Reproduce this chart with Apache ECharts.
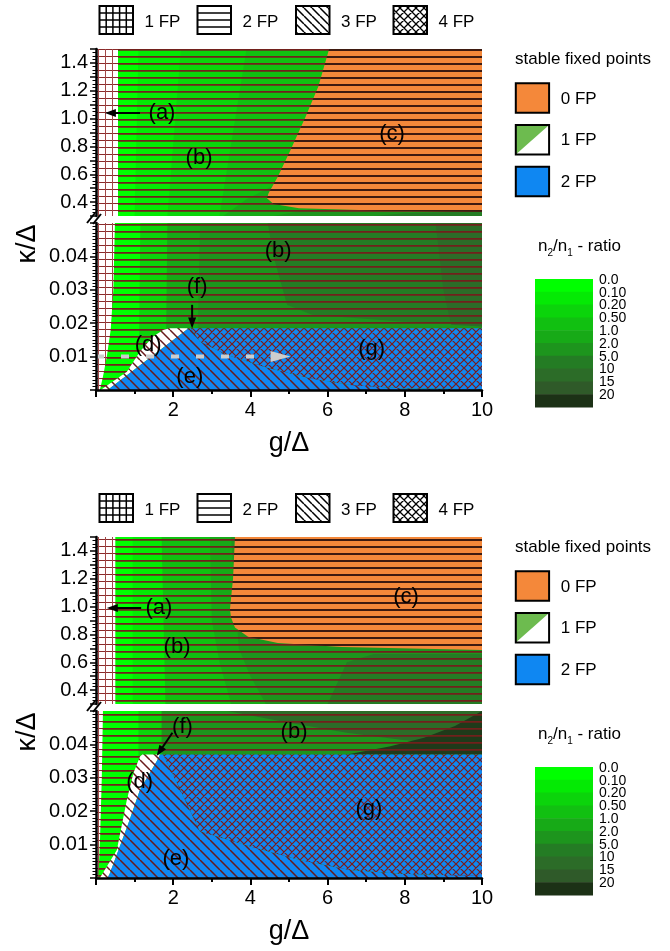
<!DOCTYPE html>
<html><head><meta charset="utf-8">
<script src="https://cdn.jsdelivr.net/npm/echarts@6.0.0/dist/echarts.min.js"></script>
<style>html,body{margin:0;padding:0;background:#fff;}#chart{width:670px;height:951px;}</style>
</head><body><div id="chart"></div>
<script>
const FONT = '"Liberation Sans", Arial, sans-serif';

// ---------------- axis / legend data ----------------
const gRange = [0, 10];
const kappaUpperRange = [0.3, 1.5];
const kappaLowerRange = [0, 0.05];
const gTicks = [2, 4, 6, 8, 10];
const kappaUpperTicks = [0.4, 0.6, 0.8, 1.0, 1.2, 1.4];
const kappaLowerTicks = [0.01, 0.02, 0.03, 0.04];
const ratioLabels = ['0.0', '0.10', '0.20', '0.50', '1.0', '2.0', '5.0', '10', '15', '20'];
const ratioColors = ['#00ff00', '#04ea04', '#0bd40b', '#11c011', '#17aa17', '#1d951d', '#247c24', '#2c6c28', '#2f5a29', '#1c3116'];
const patternNames = ['1 FP', '2 FP', '3 FP', '4 FP'];
const fixedPointNames = ['0 FP', '1 FP', '2 FP'];

// ---------------- top panel, upper part (κ/Δ 0.3 – 1.5) ----------------
const topUpOneFP = [[0, 1.5], [0.57, 1.5], [0.57, 0.3], [0, 0.3]];
const topUpBand1 = [[1.1, 1.5], [10, 1.5], [10, 0.3], [1.0, 0.3]];
const topUpBand2 = [[2.2, 1.5], [10, 1.5], [10, 0.3], [1.85, 0.3]];
const topUpBand3 = [[3.9, 1.5], [10, 1.5], [10, 0.3], [3.2, 0.3]];
const topUpBand4 = [[10, 0.52], [4.6, 0.52], [3.9, 0.42], [3.3, 0.3], [10, 0.3]];
const topUpBand5 = [[10, 0.36], [5.5, 0.345], [4.6, 0.3], [10, 0.3]];
const topUpBand6 = [[10, 0.335], [8.0, 0.32], [7.2, 0.3], [10, 0.3]];
const topUpZeroFP = [[6.04, 1.5], [10, 1.5], [10, 0.33], [7.48, 0.337], [5.26, 0.355], [4.6, 0.386], [4.43, 0.427], [4.47, 0.463], [4.71, 0.582], [5.04, 0.774], [5.43, 1.014], [5.76, 1.23]];
const topUpLabels = [['(a)', 1.71, 1.04], ['(b)', 2.67, 0.717], ['(c)', 7.67, 0.889]];
const topUpArrows = [[1.14, 1.04, 0.23, 1.04]];

// ---------------- top panel, lower part (κ/Δ 0 – 0.05) ----------------
const topLoOneFP = [[0, 0.05], [0.49, 0.05], [0.45, 0.03], [0.38, 0.018], [0.28, 0.01], [0.18, 0.004], [0.1, 0], [0, 0]];
const topLoBand1 = [[1.15, 0.05], [10, 0.05], [10, 0], [1.1, 0]];
const topLoBand2 = [[1.85, 0.05], [10, 0.05], [10, 0], [1.8, 0]];
const topLoBand3 = [[2.7, 0.05], [10, 0.05], [10, 0], [2.6, 0]];
const topLoBand4 = [[4.45, 0.05], [4.6, 0.04], [4.95, 0.0255], [5.6, 0.0225], [7.9, 0.0205], [10, 0.0195], [10, 0.05]];
const topLoBand5 = [[8.8, 0.05], [10, 0.05], [10, 0.019], [9.2, 0.0195], [9.0, 0.03]];
const topLoD = [[0.12, 0], [0.8, 0.0055], [1.14, 0.0115], [1.48, 0.016], [1.74, 0.018], [1.9, 0.0185], [2.4, 0.0185], [0.3, 0]];
const topLoE = [[0.3, 0], [2.4, 0.0185], [2.46, 0.0185], [2.69, 0.0145], [3.4, 0.0105], [4.42, 0.0067], [5.54, 0.0035], [6.58, 0.0015], [7.9, 0.0005], [10, 0.0002], [10, 0]];
const topLoG = [[2.46, 0.0185], [10, 0.0185], [10, 0.0002], [7.9, 0.0005], [6.58, 0.0015], [5.54, 0.0035], [4.42, 0.0067], [3.4, 0.0105], [2.69, 0.0145]];
const topLoLabels = [['(b)', 4.72, 0.0417], ['(f)', 2.62, 0.0309], ['(d)', 1.35, 0.0135], ['(e)', 2.43, 0.004], ['(g)', 7.14, 0.0123]];
const topLoArrows = [[2.49, 0.0255, 2.49, 0.0184]];
const topLoDashedArrow = [[0, 0.01], [5.04, 0.01]];

// ---------------- bottom panel, upper part (κ/Δ 0.3 – 1.5) ----------------
const botUpOneFP = [[0, 1.5], [0.5, 1.5], [0.5, 0.3], [0, 0.3]];
const botUpBand1 = [[0.95, 1.5], [10, 1.5], [10, 0.3], [0.95, 0.3]];
const botUpBand2 = [[1.7, 1.5], [10, 1.5], [10, 0.3], [1.8, 0.3]];
const botUpBand3 = [[2.95, 1.5], [10, 1.5], [10, 0.3], [3.5, 0.3], [3.2, 0.6], [3.0, 0.9]];
const botUpBand4 = [[3.5, 1.5], [10, 1.5], [10, 0.3], [4.4, 0.3], [4.0, 0.5], [3.7, 0.7]];
const botUpBand5 = [[10, 0.66], [10, 0.3], [6.0, 0.3], [6.5, 0.6], [7.2, 0.66]];
const botUpZeroFP = [[3.6, 1.5], [10, 1.5], [10, 0.688], [6.37, 0.71], [4.71, 0.738], [3.94, 0.783], [3.6, 0.85], [3.5, 0.92], [3.47, 0.98], [3.55, 1.2]];
const botUpLabels = [['(a)', 1.63, 0.99], ['(b)', 2.1, 0.712], ['(c)', 8.03, 1.07]];
const botUpArrows = [[1.17, 0.99, 0.28, 0.99]];

// ---------------- bottom panel, lower part (κ/Δ 0 – 0.05) ----------------
const botLoOneFP = [[0, 0.05], [0.18, 0.05], [0.15, 0.03], [0.1, 0.01], [0.06, 0], [0, 0]];
const botLoBand1 = [[1.1, 0.05], [10, 0.05], [10, 0], [1.1, 0]];
const botLoBand2 = [[1.7, 0.05], [10, 0.05], [10, 0], [1.7, 0]];
const botLoBand3 = [[3.4, 0.05], [5, 0.0465], [6.5, 0.0435], [7.9, 0.0414], [10, 0.039], [10, 0.05]];
const botLoBand4 = [[6.5, 0.037], [7.6, 0.0394], [8.5, 0.042], [9.3, 0.0455], [10, 0.05], [10, 0.037]];
const botLoD = [[0.1, 0], [0.54, 0.0084], [0.8, 0.0234], [0.97, 0.0314], [1.14, 0.0364], [1.2, 0.037], [1.66, 0.037], [1.57, 0.0349], [1.14, 0.0264], [0.84, 0.0164], [0.36, 0.0014], [0.3, 0]];
const botLoE = [[0.3, 0], [0.36, 0.0014], [0.84, 0.0164], [1.14, 0.0264], [1.57, 0.0349], [1.66, 0.037], [1.74, 0.037], [2.2, 0.026], [2.69, 0.014], [4.0, 0.0094], [5.28, 0.0054], [6.58, 0.0024], [7.88, 0.0013], [10, 0.0006], [10, 0]];
const botLoG = [[1.74, 0.037], [10, 0.037], [10, 0.0006], [7.88, 0.0013], [6.58, 0.0024], [5.28, 0.0054], [4.0, 0.0094], [2.69, 0.014], [2.2, 0.026]];
const botLoLabels = [['(b)', 5.13, 0.0437], ['(f)', 2.24, 0.0452], ['(d)', 1.13, 0.0289], ['(e)', 2.07, 0.0057], ['(g)', 7.07, 0.0207]];
const botLoArrows = [[1.98, 0.0435, 1.57, 0.0365]];

// ---------------- styles ----------------
const ORANGE = '#f4883a', BLUE = '#0f87f2', GREEN1 = '#6dbb4f';
function makeCanvas(w, h, draw) { const c = document.createElement('canvas'); c.width = w; c.height = h; draw(c.getContext('2d'), w, h); return c; }
function pat(c) { return { image: c, repeat: 'repeat' }; }
function diagCanvas(n, bg, color, lw, both) {
  return makeCanvas(n, n, (x) => {
    if (bg) { x.fillStyle = bg; x.fillRect(0, 0, n, n); }
    x.strokeStyle = color; x.lineWidth = lw; x.beginPath();
    for (let k = -1; k <= 1; k++) {
      x.moveTo(k * n, 0); x.lineTo(k * n + n, n);
      if (both) { x.moveTo(k * n, n); x.lineTo(k * n + n, 0); }
    }
    x.stroke();
  });
}
const hLines = pat(makeCanvas(8, 7, (x, w) => { x.fillStyle = '#72201c'; x.fillRect(0, 0, w, 1); x.fillStyle = 'rgba(114,32,28,0.75)'; x.fillRect(0, 1, w, 1); }));
const hLinesOrange = pat(makeCanvas(8, 7, (x, w, h) => { x.fillStyle = ORANGE; x.fillRect(0, 0, w, h); x.fillStyle = '#3e1a10'; x.fillRect(0, 0, w, 2); }));
const gridWhite = pat(makeCanvas(7, 7, (x, w, h) => { x.fillStyle = '#fff'; x.fillRect(0, 0, w, h); x.fillStyle = '#8a2a2a'; x.fillRect(0, 0, w, 1); x.fillStyle = '#a04848'; x.fillRect(0, 0, 1, h); }));
const diagWhite = pat(diagCanvas(10, '#ffffff', '#6b1b1b', 1.5, false));
const diagBlue = pat(diagCanvas(10, BLUE, '#6b1b1b', 1.5, false));
const crossBlue = pat(diagCanvas(8, BLUE, '#7a1a1a', 1.2, true));
const diagBlack = pat(diagCanvas(8, '#ffffff', '#000', 1.5, false));
const crossBlack = pat(diagCanvas(8, '#ffffff', '#000', 1.3, true));

function frame(r) { return [[gRange[0], r[1]], [gRange[1], r[1]], [gRange[1], r[0]], [gRange[0], r[0]]]; }
const C = ratioColors;

const subplots = [
  { layers: [[frame(kappaUpperRange), C[0]], [topUpBand1, C[1]], [topUpBand2, C[2]], [topUpBand3, C[3]], [topUpBand4, C[4]], [topUpBand5, C[5]], [topUpBand6, C[6]], [frame(kappaUpperRange), hLines], [topUpZeroFP, hLinesOrange], [topUpOneFP, gridWhite]],
    labels: topUpLabels, arrows: topUpArrows, dashed: null },
  { layers: [[frame(kappaLowerRange), C[0]], [topLoBand1, C[2]], [topLoBand2, C[4]], [topLoBand3, C[5]], [topLoBand4, C[6]], [topLoBand5, C[7]], [frame(kappaLowerRange), hLines], [topLoOneFP, gridWhite], [topLoD, diagWhite], [topLoE, diagBlue], [topLoG, crossBlue]],
    labels: topLoLabels, arrows: topLoArrows, dashed: topLoDashedArrow },
  { layers: [[frame(kappaUpperRange), C[0]], [botUpBand1, C[1]], [botUpBand2, C[3]], [botUpBand3, C[4]], [botUpBand4, C[5]], [botUpBand5, C[6]], [frame(kappaUpperRange), hLines], [botUpZeroFP, hLinesOrange], [botUpOneFP, gridWhite]],
    labels: botUpLabels, arrows: botUpArrows, dashed: null },
  { layers: [[frame(kappaLowerRange), C[0]], [botLoBand1, C[2]], [botLoBand2, C[5]], [botLoBand3, C[7]], [botLoBand4, '#1f3a1a'], [frame(kappaLowerRange), hLines], [botLoOneFP, gridWhite], [botLoD, diagWhite], [botLoE, diagBlue], [botLoG, crossBlue]],
    labels: botLoLabels, arrows: botLoArrows, dashed: null }
];

function arrowEls(p1, p2, color, lw, headLen, headHalf, dash) {
  const dx = p2[0] - p1[0], dy = p2[1] - p1[1], L = Math.hypot(dx, dy), ux = dx / L, uy = dy / L;
  const bx = p2[0] - ux * headLen, by = p2[1] - uy * headLen;
  return [
    { type: 'line', shape: { x1: p1[0], y1: p1[1], x2: bx + ux, y2: by + uy }, style: { stroke: color, lineWidth: lw, lineDash: dash || null } },
    { type: 'polygon', shape: { points: [[p2[0], p2[1]], [bx - uy * headHalf, by + ux * headHalf], [bx + uy * headHalf, by - ux * headHalf]] }, style: { fill: color } }
  ];
}
function textEl(t, x, y, size) {
  return { type: 'text', x: x, y: y, style: { text: t, font: size + 'px ' + FONT, fill: '#000', align: 'center', verticalAlign: 'middle', textAlign: 'center', textVerticalAlign: 'middle' } };
}

const series = subplots.map((sp, i) => ({
  type: 'custom', coordinateSystem: 'cartesian2d', xAxisIndex: i, yAxisIndex: i,
  silent: true, animation: false, clip: true, z: 2,
  data: [[5, i % 2 ? 0.02 : 0.9]],
  renderItem: (params, api) => {
    const ch = [];
    sp.layers.forEach(([pts, fill]) => {
      ch.push({ type: 'polygon', shape: { points: pts.map(p => api.coord(p)) }, style: { fill: fill, stroke: null } });
    });
    if (sp.dashed) {
      const a = api.coord(sp.dashed[0]), b = api.coord(sp.dashed[1]);
      arrowEls(a, b, '#cdcdcd', 4, 20, 5.5, [8, 17]).forEach(e => ch.push(e));
    }
    sp.arrows.forEach(ar => {
      arrowEls(api.coord([ar[0], ar[1]]), api.coord([ar[2], ar[3]]), '#000', 2, 11, 4).forEach(e => ch.push(e));
    });
    sp.labels.forEach(l => { const p = api.coord([l[1], l[2]]); ch.push(textEl(l[0], p[0], p[1], 22)); });
    return { type: 'group', children: ch };
  }
}));

const gridTops = [49, 223, 537, 711];
const grids = gridTops.map(t => ({ left: 96, width: 386, top: t, height: 167, containLabel: false, outerBoundsMode: 'none', show: false }));

function near(list, v) { return list.some(t => Math.abs(t - v) < 1e-6); }
const xAxes = gridTops.map((t, i) => {
  const lower = i % 2 === 1;
  return {
    gridIndex: i, type: 'value', min: gRange[0], max: gRange[1], interval: 2, show: lower, z: 10,
    axisLine: { show: true, onZero: false, lineStyle: { color: '#000', width: 2.5 } },
    axisTick: { show: true, length: 7, lineStyle: { color: '#000', width: 2 } },
    minorTick: { show: true, splitNumber: 2, length: 4, lineStyle: { color: '#000', width: 2 } },
    splitLine: { show: false }, minorSplitLine: { show: false },
    axisLabel: { show: true, formatter: v => near(gTicks, v) ? String(v) : '', fontSize: 20, color: '#000', margin: 10, fontFamily: FONT },
    name: lower ? 'g/Δ' : '', nameLocation: 'middle', nameGap: 40,
    nameTextStyle: { fontSize: 27, color: '#000', fontFamily: FONT }
  };
});
const yAxes = gridTops.map((t, i) => {
  const upper = i % 2 === 0;
  const r = upper ? kappaUpperRange : kappaLowerRange;
  return {
    gridIndex: i, type: 'value', min: r[0], max: r[1], interval: upper ? 0.1 : 0.01, z: 10,
    axisLine: { show: true, onZero: false, lineStyle: { color: '#000', width: 2.5 } },
    axisTick: { show: true, length: 6, lineStyle: { color: '#000', width: 1.5 } },
    minorTick: { show: true, splitNumber: upper ? 4 : 10, length: 3.5, lineStyle: { color: '#000', width: 1 } },
    splitLine: { show: false }, minorSplitLine: { show: false },
    axisLabel: {
      formatter: v => upper ? (near(kappaUpperTicks, v) ? v.toFixed(1) : '') : (near(kappaLowerTicks, v) ? v.toFixed(2) : ''),
      fontSize: 20, color: '#000', margin: 8, fontFamily: FONT
    }
  };
});

// ---------------- decorations (legends, colour bar, labels) ----------------
const mctx = document.createElement('canvas').getContext('2d');
function tw(text, size) { mctx.font = size + 'px ' + FONT; return mctx.measureText(text).width; }
function gText(t, x, y, size, align, extra) {
  return Object.assign({ type: 'text', x: x, y: y, z: 100, silent: true,
    style: { text: t, font: size + 'px ' + FONT, fill: '#000', align: align || 'left', verticalAlign: 'middle', textAlign: align || 'left', textVerticalAlign: 'middle' } }, extra || {});
}
function gLine(x1, y1, x2, y2, w) { return { type: 'line', z: 100, silent: true, shape: { x1, y1, x2, y2 }, style: { stroke: '#000', lineWidth: w } }; }
function gRect(x, y, w, h, fill, stroke) { return { type: 'rect', z: 100, silent: true, shape: { x, y, width: w, height: h }, style: { fill: fill, stroke: stroke || null, lineWidth: 2 } }; }

const graphics = [];
[0, 488].forEach(off => {
  // pattern legend
  const bx = [99.5, 197.5, 296, 393.5], bw = 33.5, by = 6 + off, bh = 28;
  patternNames.forEach((name, k) => {
    const x0 = bx[k];
    if (k === 0) {
      graphics.push(gRect(x0, by, bw, bh, '#fff'));
      for (let j = 1; j < 5; j++) graphics.push(gLine(x0 + bw * j / 5, by, x0 + bw * j / 5, by + bh, 1.5));
      for (let j = 1; j < 4; j++) graphics.push(gLine(x0, by + bh * j / 4, x0 + bw, by + bh * j / 4, 1.5));
    } else if (k === 1) {
      graphics.push(gRect(x0, by, bw, bh, '#fff'));
      for (let j = 1; j < 4; j++) graphics.push(gLine(x0, by + bh * j / 4, x0 + bw, by + bh * j / 4, 1.5));
    } else {
      graphics.push(gRect(x0, by, bw, bh, k === 2 ? diagBlack : crossBlack));
    }
    graphics.push(gRect(x0, by, bw, bh, null, '#000'));
    graphics.push(gText(name, x0 + 45, by + 16.5, 17));
  });
  // stable fixed points legend
  graphics.push(gText('stable fixed points', 515, 59 + off, 17));
  const ly = [83.3, 125, 166.7];
  fixedPointNames.forEach((name, k) => {
    const x0 = 515.8, y0 = ly[k] + off, w = 33.3, h = 29.5;
    if (k === 0) graphics.push(gRect(x0, y0, w, h, ORANGE));
    if (k === 2) graphics.push(gRect(x0, y0, w, h, BLUE));
    if (k === 1) {
      graphics.push(gRect(x0, y0, w, h, '#fff'));
      graphics.push({ type: 'polygon', z: 100, silent: true, shape: { points: [[x0, y0], [x0 + w, y0], [x0, y0 + h]] }, style: { fill: GREEN1 } });
    }
    graphics.push(gRect(x0, y0, w, h, null, '#000'));
    graphics.push(gText(name, 560.7, y0 + h / 2 + 1, 17));
  });
  // colour bar
  const cbTop = 279 + off, bandH = 12.8;
  ratioColors.forEach((c, k) => graphics.push(gRect(535, cbTop + k * bandH, 58, bandH + 0.5, c)));
  ratioLabels.forEach((t, k) => graphics.push(gText(t, 599, cbTop + k * bandH + 1, 14)));
  // colour bar title n2/n1 - ratio
  const parts = [['n', 17, 0], ['2', 10, 7], ['/n', 17, 0], ['1', 10, 7], [' - ratio', 17, 0]];
  let tx = 538;
  parts.forEach(p => { graphics.push(gText(p[0], tx, 246 + off + p[2], p[1])); tx += tw(p[0], p[1]); });
  // y axis title
  graphics.push(gText('κ/Δ', 28, 244 + off, 27, 'center', { rotation: Math.PI / 2 }));
  // axis break marks
  graphics.push(gLine(87, 223 + off, 95, 213 + off, 2));
  graphics.push(gLine(93, 224 + off, 101, 214 + off, 2));
});

const chart = echarts.init(document.getElementById('chart'), null, { renderer: 'canvas' });
chart.setOption({
  animation: false,
  backgroundColor: '#fff',
  textStyle: { fontFamily: FONT },
  grid: grids,
  xAxis: xAxes,
  yAxis: yAxes,
  series: series,
  graphic: { elements: graphics }
});
</script></body></html>
